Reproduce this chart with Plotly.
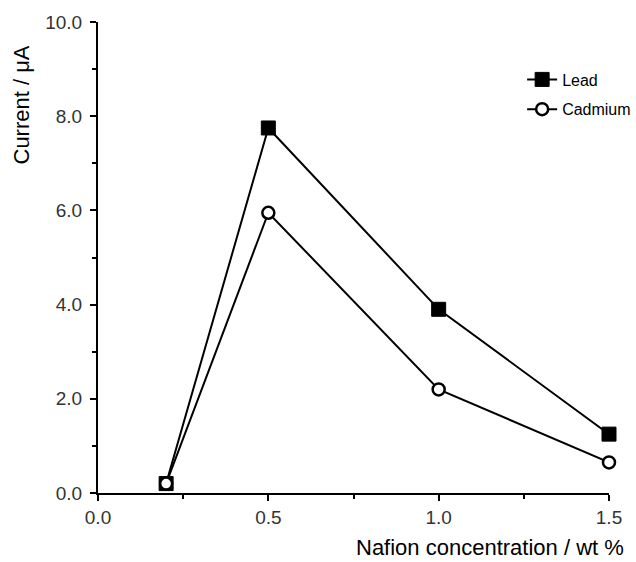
import plotly.graph_objects as go

conc = [0.2, 0.5, 1.0, 1.5]
lead = [0.2, 7.75, 3.9, 1.25]
cadmium = [0.2, 5.95, 2.2, 0.65]
x_ticks = [0.0, 0.5, 1.0, 1.5]
x_ticklabels = ["0.0", "0.5", "1.0", "1.5"]
y_ticks = [0, 2, 4, 6, 8, 10]
y_ticklabels = ["0.0", "2.0", "4.0", "6.0", "8.0", "10.0"]

FONT = "Liberation Sans, Arial, sans-serif"

fig = go.Figure()
fig.add_trace(go.Scatter(
    x=conc, y=lead, name="Lead", mode="lines+markers", legendgroup="lead",
    line=dict(color="black", width=2),
    marker=dict(symbol="square", size=14, color="black",
                line=dict(color="black", width=1)),
    cliponaxis=False,
))
fig.add_trace(go.Scatter(
    x=conc, y=cadmium, name="Cadmium", mode="lines+markers", legendgroup="cad",
    line=dict(color="black", width=2),
    marker=dict(symbol="circle", size=12, color="white",
                line=dict(color="black", width=2.5)),
    cliponaxis=False,
))

fig.update_layout(
    width=636, height=562,
    margin=dict(l=98, r=27, t=22, b=69, autoexpand=False),
    paper_bgcolor="white", plot_bgcolor="white",
    font=dict(family=FONT, color="#222"),
    showlegend=True,
    legend=dict(x=0.83, y=0.914, xanchor="left", yanchor="top",
                font=dict(size=16, color="black"),
                bgcolor="rgba(0,0,0,0)", tracegroupgap=6, itemwidth=30),
    xaxis=dict(
        range=[0, 1.5], showgrid=False, zeroline=False, automargin=False,
        showline=True, linecolor="black", linewidth=2,
        ticks="outside", ticklen=6, tickwidth=2, tickcolor="black",
        tickvals=x_ticks, ticktext=x_ticklabels,
        tickfont=dict(size=19, color="#333"),
        minor=dict(ticks="outside", ticklen=4, tickwidth=2, tickcolor="black", dtick=0.25),
    ),
    yaxis=dict(
        range=[0, 10], showgrid=False, zeroline=False, automargin=False,
        showline=True, linecolor="black", linewidth=2,
        ticks="outside", ticklen=6, tickwidth=2, tickcolor="black",
        tickvals=y_ticks, ticktext=y_ticklabels,
        tickfont=dict(size=19, color="#333"), ticklabelstandoff=4,
        minor=dict(ticks="outside", ticklen=4, tickwidth=2, tickcolor="black", dtick=1),
    ),
    annotations=[
        dict(text="Nafion concentration / wt %", xref="paper", yref="paper",
             x=1.0, y=0, xanchor="right", yanchor="top", yshift=-41, xshift=16,
             borderpad=0,
             showarrow=False, font=dict(size=22, color="black", family=FONT)),
        dict(text="Current / μA", xref="paper", yref="paper",
             x=0, y=1.0, xanchor="center", yanchor="top", xshift=-77, yshift=-22,
             textangle=-90,
             showarrow=False, font=dict(size=22, color="black", family=FONT)),
    ],
)

fig.write_html("out.html")
